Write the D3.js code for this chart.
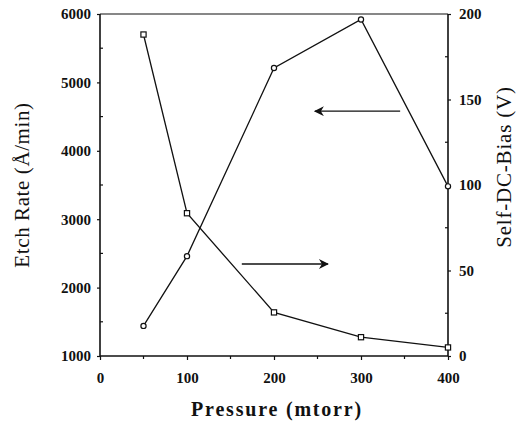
<!DOCTYPE html>
<html>
<head>
<meta charset="utf-8">
<script src="https://cdn.jsdelivr.net/npm/d3@7"></script>
<style>
  body { margin: 0; background: #fff; }
  text { font-family: "Liberation Serif", "DejaVu Serif", serif; fill: #111; }
</style>
</head>
<body>
<svg width="522" height="426"></svg>
<script>
var pressure = [50, 100, 200, 300, 400];
var etchRate = [1440, 2460, 5210, 5920, 3480];
var selfBias = [188, 83.5, 25.5, 11, 5];

var xTicks = [0, 100, 200, 300, 400];
var leftTicks = [1000, 2000, 3000, 4000, 5000, 6000];
var rightTicks = [0, 50, 100, 150, 200];

var svg = d3.select("svg");
var plotLeft = 100, plotRight = 448, plotTop = 14, plotBottom = 356;

var x = d3.scaleLinear().domain([0, 400]).range([plotLeft, plotRight]);
var yL = d3.scaleLinear().domain([1000, 6000]).range([plotBottom, plotTop]);
var yR = d3.scaleLinear().domain([0, 200]).range([plotBottom, plotTop]);

var ink = "#111";

// frame lines (left, right, bottom, top)
svg.append("line").attr("x1", plotLeft).attr("x2", plotLeft).attr("y1", plotTop).attr("y2", plotBottom)
   .attr("stroke", ink).attr("stroke-width", 1.6);
svg.append("line").attr("x1", plotRight).attr("x2", plotRight).attr("y1", plotTop).attr("y2", plotBottom)
   .attr("stroke", ink).attr("stroke-width", 1.6);
svg.append("line").attr("x1", plotLeft).attr("x2", plotRight).attr("y1", plotBottom).attr("y2", plotBottom)
   .attr("stroke", ink).attr("stroke-width", 1.6);
svg.append("line").attr("x1", plotLeft).attr("x2", plotRight).attr("y1", plotTop).attr("y2", plotTop)
   .attr("stroke", ink).attr("stroke-width", 1.2);

// axes
var xAxis = svg.append("g").attr("transform", "translate(0," + plotBottom + ")")
   .call(d3.axisBottom(x).tickValues(xTicks).tickSize(4).tickPadding(12));
var leftAxis = svg.append("g").attr("transform", "translate(" + plotLeft + ",0)")
   .call(d3.axisLeft(yL).tickValues(leftTicks).tickFormat(d3.format("d")).tickSize(3).tickPadding(6));
var rightAxis = svg.append("g").attr("transform", "translate(" + plotRight + ",0)")
   .call(d3.axisRight(yR).tickValues(rightTicks).tickSize(3).tickPadding(8));

[xAxis, leftAxis, rightAxis].forEach(function(a) {
   a.select(".domain").remove();
   a.selectAll("line").attr("stroke", ink).attr("stroke-width", 1.2);
   a.selectAll("text")
      .style("font-family", '"Liberation Serif", serif')
      .style("font-size", "15px")
      .style("font-weight", "bold")
      .attr("fill", ink);
});

// minor ticks
var minorX = [50, 150, 250, 350];
svg.selectAll(".mx").data(minorX).enter().append("line")
   .attr("x1", function(d) { return x(d); }).attr("x2", function(d) { return x(d); })
   .attr("y1", plotBottom).attr("y2", plotBottom + 3)
   .attr("stroke", ink).attr("stroke-width", 1.2);
var minorL = [1500, 2500, 3500, 4500, 5500];
svg.selectAll(".ml").data(minorL).enter().append("line")
   .attr("x1", plotLeft).attr("x2", plotLeft + 3)
   .attr("y1", function(d) { return yL(d); }).attr("y2", function(d) { return yL(d); })
   .attr("stroke", ink).attr("stroke-width", 1.2);
var minorR = [25, 75, 125, 175];
svg.selectAll(".mr").data(minorR).enter().append("line")
   .attr("x1", plotRight - 3).attr("x2", plotRight)
   .attr("y1", function(d) { return yR(d); }).attr("y2", function(d) { return yR(d); })
   .attr("stroke", ink).attr("stroke-width", 1.2);

// etch rate series (circles)
var etchLine = d3.line()
   .x(function(d, i) { return x(pressure[i]); })
   .y(function(d) { return yL(d); });
svg.append("path").datum(etchRate).attr("d", etchLine)
   .attr("fill", "none").attr("stroke", ink).attr("stroke-width", 1.3);
svg.selectAll(".etch").data(etchRate).enter().append("circle")
   .attr("class", "etch")
   .attr("cx", function(d, i) { return x(pressure[i]); })
   .attr("cy", function(d) { return yL(d); })
   .attr("r", 2.6)
   .attr("fill", "#fff").attr("stroke", ink).attr("stroke-width", 1.2);

// self bias series (squares)
var biasLine = d3.line()
   .x(function(d, i) { return x(pressure[i]); })
   .y(function(d) { return yR(d); });
svg.append("path").datum(selfBias).attr("d", biasLine)
   .attr("fill", "none").attr("stroke", ink).attr("stroke-width", 1.3);
svg.selectAll(".bias").data(selfBias).enter().append("rect")
   .attr("class", "bias")
   .attr("x", function(d, i) { return x(pressure[i]) - 2.6; })
   .attr("y", function(d) { return yR(d) - 2.6; })
   .attr("width", 5.2).attr("height", 5.2)
   .attr("fill", "#fff").attr("stroke", ink).attr("stroke-width", 1.2);

// arrows
svg.append("defs").append("marker")
   .attr("id", "ah").attr("viewBox", "0 0 10 10").attr("refX", 9).attr("refY", 5)
   .attr("markerWidth", 12).attr("markerHeight", 10).attr("markerUnits", "userSpaceOnUse")
   .attr("orient", "auto")
   .append("path").attr("d", "M0,0 L10,5 L0,10 L3,5 Z").attr("fill", ink);

// upper arrow points to left axis series (etch rate)
svg.append("line")
   .attr("x1", x(345)).attr("y1", yL(4580))
   .attr("x2", x(247)).attr("y2", yL(4580))
   .attr("stroke", ink).attr("stroke-width", 1.3).attr("marker-end", "url(#ah)");
// lower arrow points to right axis series (bias)
svg.append("line")
   .attr("x1", x(163)).attr("y1", yL(2345))
   .attr("x2", x(262)).attr("y2", yL(2345))
   .attr("stroke", ink).attr("stroke-width", 1.3).attr("marker-end", "url(#ah)");

// axis titles
svg.append("text")
   .attr("transform", "translate(29,185) rotate(-90)")
   .attr("text-anchor", "middle")
   .style("font-size", "21px")
   .style("letter-spacing", "0.6px")
   .text("Etch Rate (Å/min)");
svg.append("text")
   .attr("transform", "translate(511,167) rotate(-90)")
   .attr("text-anchor", "middle")
   .style("font-size", "21px")
   .style("letter-spacing", "0.8px")
   .text("Self-DC-Bias (V)");
svg.append("text")
   .attr("x", 277).attr("y", 416)
   .attr("text-anchor", "middle")
   .style("font-size", "20px")
   .style("font-weight", "bold")
   .style("letter-spacing", "1.8px")
   .text("Pressure (mtorr)");
</script>
</body>
</html>
